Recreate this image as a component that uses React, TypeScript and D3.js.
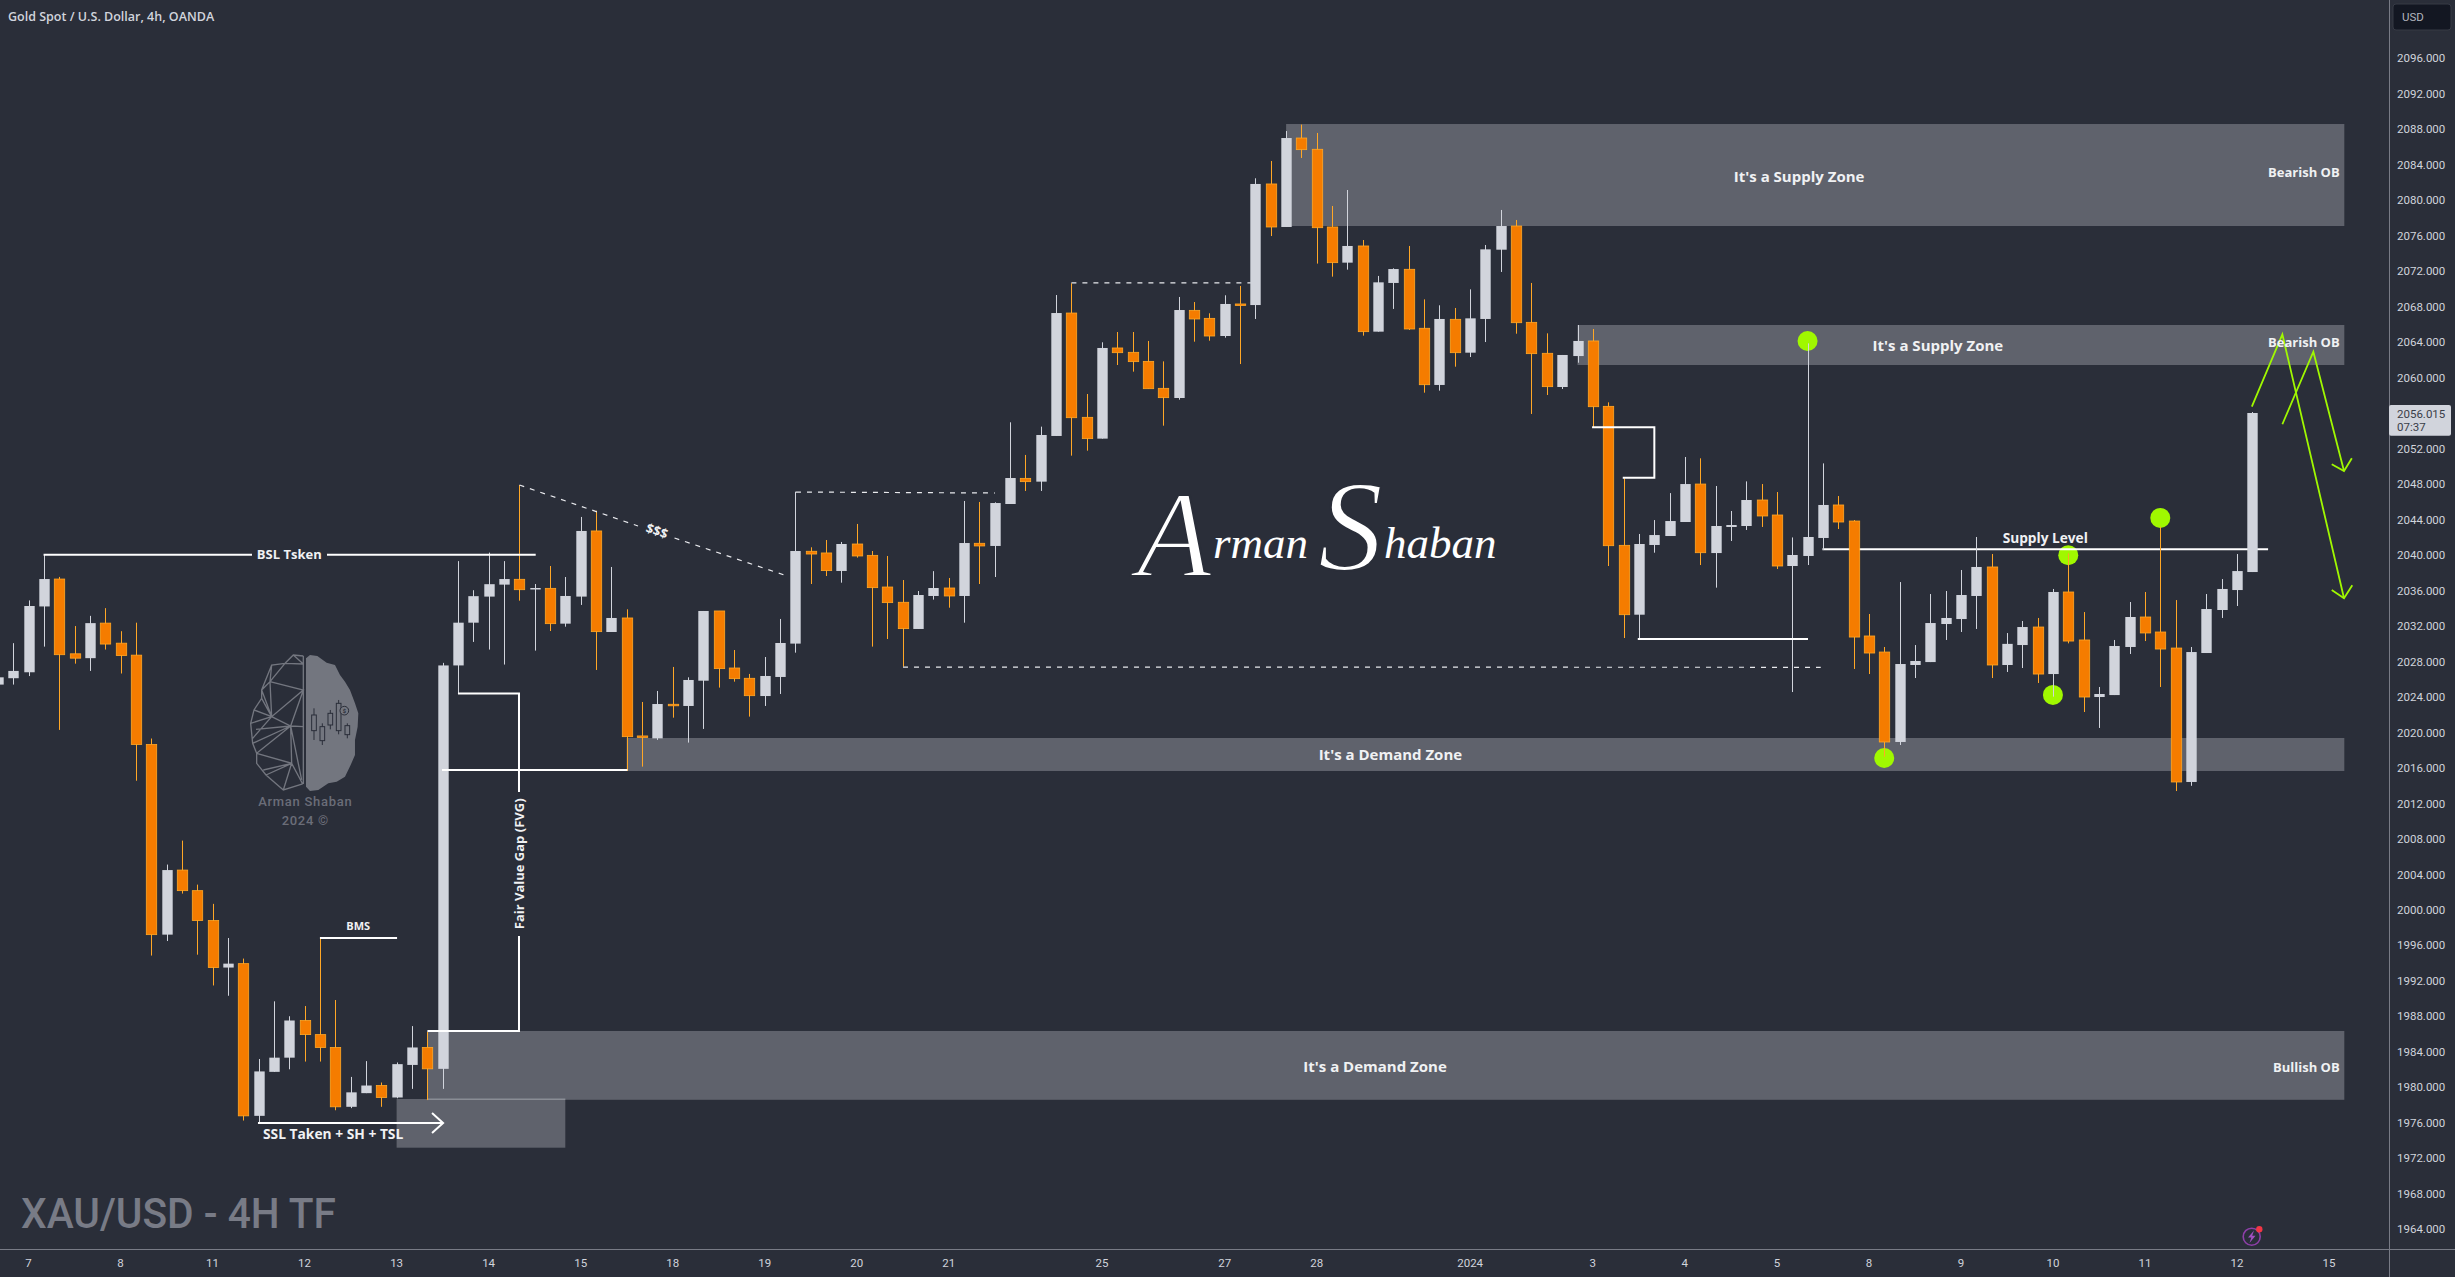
import React from "react";
import * as d3 from "d3";

// ---- candle data: each row holds ten candles, first entry is bar index -1 ----
const bodyTops = [
  2026.23,2026.95,2034.27,2037.31,2037.31,2028.88,2032.34,2032.34,2030.08,2028.73,
  2018.66,2004.5,2004.5,2002.18,1998.81,1993.95,1993.95,1981.8,1983.35,1987.54,
  1987.54,1985.95,1984.5,1979.44,1980.21,1980.21,1982.62,1984.5,1984.5,2027.57,
  2032.39,2035.38,2036.73,2037.31,2037.28,2036.3,2036.26,2035.4,2042.73,2042.73,
  2032.92,2032.92,2019.62,2023.22,2023.19,2025.93,2033.71,2033.71,2027.28,2026.12,
  2026.38,2030.1,2040.47,2040.44,2040.25,2041.26,2041.26,2039.98,2036.41,2034.69,
  2035.51,2036.3,2036.3,2041.37,2041.34,2045.88,2048.7,2048.66,2053.55,2067.3,
  2067.3,2055.54,2063.36,2063.36,2062.87,2061.85,2058.81,2067.64,2067.6,2066.7,
  2068.32,2068.32,2081.85,2081.85,2087.03,2087.03,2085.76,2077,2074.86,2074.86,
  2070.76,2072.26,2072.23,2065.58,2066.63,2066.59,2066.7,2074.48,2077.11,2077.11,
  2066.25,2062.76,2062.57,2064.15,2064.15,2056.78,2041.11,2041.26,2042.27,2043.85,
  2048.02,2048.02,2043.29,2043.4,2046.22,2046.22,2044.53,2040.02,2042.05,2045.66,
  2045.66,2043.85,2030.89,2029.08,2027.73,2028.07,2032.35,2032.92,2035.51,2038.67,
  2038.67,2030,2031.9,2031.9,2035.85,2035.85,2030.44,2024.35,2029.76,2033.03,
  2033.03,2031.34,2029.53,2029.08,2033.93,2036.19,2038.21,2056.03,
];
const bodyBots = [
  2025.41,2026.13,2026.8,2034.22,2028.78,2028.39,2028.39,2029.98,2028.68,2018.66,
  1997.22,1997.22,2002.18,1998.81,1993.51,1993.51,1976.79,1976.79,1981.75,1983.35,
  1985.95,1984.5,1977.81,1977.81,1979.35,1978.86,1978.86,1982.53,1982.09,1982.09,
  2027.57,2032.39,2035.33,2036.68,2036.11,2036.23,2032.28,2032.28,2035.33,2031.38,
  2031.34,2019.54,2019.54,2019.35,2023.04,2023,2025.85,2027.21,2026.08,2024.16,
  2024.12,2026.27,2030.03,2040.13,2038.26,2038.22,2039.91,2036.34,2034.65,2031.72,
  2031.68,2035.4,2035.4,2035.4,2041.04,2041.04,2045.77,2048.29,2048.29,2053.44,
  2055.5,2053.14,2053.14,2062.83,2061.82,2058.77,2057.76,2057.72,2066.63,2064.71,
  2064.71,2068.24,2068.2,2077,2077,2085.72,2076.92,2072.98,2072.98,2065.2,
  2065.2,2070.69,2065.5,2059.22,2059.19,2062.83,2062.83,2066.63,2074.44,2066.21,
  2062.72,2059,2058.96,2062.45,2056.74,2041.07,2033.29,2033.29,2041.15,2042.16,
  2043.74,2040.28,2040.24,2043.18,2043.29,2044.42,2038.78,2038.78,2039.91,2041.94,
  2043.74,2030.77,2028.97,2018.94,2018.94,2027.62,2027.95,2032.24,2032.8,2035.4,
  2027.62,2027.62,2029.87,2026.6,2026.6,2030.32,2024.01,2024.01,2024.23,2029.65,
  2031.23,2029.42,2014.43,2014.43,2028.97,2033.82,2036.07,2038.1,
];
const highs = [
  2026.8,2030.08,2034.9,2040.05,2037.55,2032.01,2033.16,2034.03,2031.43,2032.39,
  2019.33,2005.12,2007.82,2002.86,2000.69,1996.84,1994.52,1983.2,1989.7,1988.02,
  1989.17,1996.84,1989.85,1981.18,1982.96,1980.55,1982.81,1986.91,1986.24,2027.86,
  2039.33,2036.05,2040.29,2039.33,2047.91,2036.75,2038.78,2037.54,2044.31,2045.02,
  2038.67,2033.9,2023.45,2024.69,2027.4,2026.23,2033.71,2033.71,2029.31,2026.61,
  2028.52,2032.81,2047.16,2040.89,2041.71,2041.49,2043.52,2040.47,2039.91,2037.2,
  2035.96,2038.2,2037.43,2046.11,2046,2045.96,2054.98,2051.3,2054.49,2069.33,
  2070.65,2058.17,2064,2065.16,2065.16,2064.15,2061.85,2069.11,2068.54,2067.27,
  2069.3,2070.35,2082.49,2084.44,2087.82,2088.54,2087.6,2079.37,2081.17,2075.53,
  2071.48,2072.34,2074.86,2068.84,2068.17,2067.87,2069.97,2074.97,2078.92,2077.79,
  2070.69,2065.01,2062.57,2065.95,2065.5,2057.23,2048.66,2042.39,2043.96,2047,
  2051.07,2050.92,2047.8,2044.98,2048.32,2048.02,2047.12,2042,2063.88,2050.35,
  2046.67,2043.96,2033.37,2029.65,2036.97,2029.87,2035.62,2035.96,2038.33,2042.05,
  2040.13,2031.22,2032.58,2032.92,2036.19,2040.2,2033.59,2025.14,2030.44,2034.72,
  2035.85,2043.21,2034.94,2029.65,2035.62,2037.31,2040.13,2056.14,
];
const lows = [
  2025.0,2025.41,2026.37,2029.69,2020.3,2027.77,2026.95,2029.36,2026.66,2014.57,
  1994.86,1996.5,2001.85,1994.96,1991.49,1990.33,1976.26,1976.07,1981.75,1982.04,
  1982.91,1982.91,1977.42,1977.66,1979.35,1977.81,1978.77,1979.83,1978.57,1979.83,
  2024.39,2030.22,2029.36,2027.67,2034.87,2029.24,2031.45,2031.94,2034.39,2027.06,
  2031.34,2015.67,2016.16,2019.17,2021.68,2018.87,2020.41,2025.07,2025.74,2021.8,
  2023,2024.35,2029.01,2036.75,2037.65,2036.9,2039.72,2029.69,2030.55,2027.43,
  2031.68,2034.99,2034.08,2032.39,2036.75,2037.54,2045.77,2047.24,2047.24,2053.44,
  2051.22,2051.78,2053.14,2061.44,2060.69,2058.77,2054.6,2057.53,2064.07,2064.18,
  2064.52,2061.55,2066.63,2075.98,2077,2084.78,2072.87,2071.4,2072.19,2064.75,
  2065.2,2067.76,2065.39,2058.32,2058.55,2061.25,2062.34,2064.03,2071.93,2064.97,
  2055.92,2058.06,2058.73,2061.7,2054.41,2038.78,2030.66,2030.55,2040.28,2042.16,
  2043.74,2038.89,2036.34,2041.6,2042.84,2043.18,2038.44,2024.57,2038.89,2040.58,
  2042.95,2027.17,2026.6,2017.28,2018.6,2026.15,2027.95,2030.44,2031.34,2031.68,
  2026.15,2026.83,2027.28,2025.59,2024.05,2030.06,2022.32,2020.52,2024.23,2028.86,
  2030.32,2025.14,2013.41,2014,2028.97,2032.92,2034.27,2038.1,
];
// 1 = rising candle (grey), 0 = falling candle (orange)
const rising = [
  1,1,1,1,0,0,1,0,0,0,
  0,1,0,0,0,1,0,1,1,1,
  0,0,0,1,1,0,1,1,0,1,
  1,1,1,1,0,1,0,1,1,0,
  1,0,0,1,0,1,1,0,0,0,
  1,1,1,0,0,1,0,0,0,0,
  1,1,0,1,0,1,1,0,1,1,
  0,0,1,0,0,0,0,1,0,0,
  1,0,1,0,1,0,0,0,1,0,
  1,1,0,0,1,0,1,1,1,0,
  0,0,1,1,0,0,0,1,1,1,
  1,0,1,1,1,0,0,1,1,1,
  0,0,0,0,1,1,1,1,1,1,
  0,1,1,0,1,0,0,1,1,1,
  0,0,0,1,1,1,1,1,
];

const priceTicks = [2096,2092,2088,2084,2080,2076,2072,2068,2064,2060,2052,2048,2044,2040,2036,2032,2028,2024,2020,2016,2012,2008,2004,2000,1996,1992,1988,1984,1980,1976,1972,1968,1964];
const timeTicks = [1,7,13,19,25,31,37,43,49,55,61,71,79,85,95,103,109,115,121,127,133,139,145,151];
const timeLabels = ["7","8","11","12","13","14","15","18","19","20","21","25","27","28","2024","3","4","5","8","9","10","11","12","15"];

// zones: [from index, to index, top price, bottom price]
const zones = [
  [83,152,2088.61,2077.11],
  [102,152,2065.95,2061.44],
  [40,152,2019.39,2015.67],
  [27,152,1986.36,1978.6],
  [25,36,1978.69,1973.2],
];
// solid annotation polylines as [index, price]
const whiteLines = [
  [[1.98,2040.05],[15.57,2040.05]],
  [[20.46,2040.05],[34.07,2040.05]],
  [[20,1996.84],[25.03,1996.84]],
  [[15.96,1975.99],[28.03,1975.99]],
  [[27.31,1977.1],[28.03,1975.99],[27.31,1974.87]],
  [[29,2024.4],[32.98,2024.4],[32.98,2013.3]],
  [[32.98,1997.07],[32.98,1986.36],[27.01,1986.36]],
  [[27.96,2015.78],[40.05,2015.78]],
  [[102.95,2054.42],[107.01,2054.42],[107.01,2048.73],[104.95,2048.73]],
  [[105.93,2030.55],[117.03,2030.55]],
];
const supplyLine = [[117.97,2040.66],[147.03,2040.66]];
const dashedLines = [
  [[33.01,2047.91],[40.74,2043.29]],
  [[43.12,2041.94],[50.26,2037.77]],
  [[51.04,2047.12],[64.02,2047.01]],
  [[58.02,2027.39],[117.86,2027.36]],
  [[69,2070.69],[80.69,2070.69]],
];
const greenLines = [
  [[145.97,2056.74],[147.96,2064.9],[151.98,2035.14]],
  [[151.18,2036.07],[151.98,2035.14],[152.52,2036.6]],
  [[147.96,2054.76],[149.98,2062.94],[151.98,2049.49]],
  [[151.18,2050.25],[151.98,2049.49],[152.49,2050.92]],
];
const dots = [[117,2064.15],[122,2017.14],[134,2040],[133,2024.25],[140,2044.2]];
// labels: [text, index, price, anchor, size]
const labels: [string, number, number, string, number][] = [
  ["BSL Tsken",18,2040.05,"middle",13],
  ["BMS",22.5,1998.2,"middle",11],
  ["SSL Taken + SH + TSL",20.86,1974.75,"middle",13.8],
  ["It's a Supply Zone",116.45,2082.7,"middle",15],
  ["It's a Supply Zone",125.5,2063.6,"middle",15],
  ["It's a Demand Zone",89.8,2017.5,"middle",15],
  ["It's a Demand Zone",88.8,1982.3,"middle",15],
  ["Supply Level",132.5,2041.97,"middle",13.7],
  ["Bearish OB",151.7,2083.1,"end",13],
  ["Bearish OB",151.7,2064,"end",13],
  ["Bullish OB",151.7,1982.3,"end",13],
];

const W = 2455, H = 1277;
const x = d3.scaleLinear().domain([0, 146]).range([13.2, 2252.3]);
const y = d3.scaleLinear().domain([2064, 1964]).range([342.3, 1229.3]);
const lineGen = d3.line<number[]>().x(d => x(d[0])).y(d => y(d[1]));

const BG = "#2a2e39", UP = "#d1d4dc", DOWN = "#f57c00", DOWNEDGE = "#ffa726", ZONE = "#5f626c", AXIS = "#787b86", GREEN = "#a0f800";
const annFont = "'Open Sans', sans-serif";
const axisFont = "Roboto, sans-serif";

function Candles() {
  const bw = 10.4;
  return (
    <g>
      {bodyTops.map((t, k) => {
        const i = k - 1, up = rising[k] === 1;
        const cx = Math.round(x(i)) + 0.5;
        const top = y(t), bot = y(bodyBots[k]);
        return (
          <g key={k}>
            <line x1={cx} x2={cx} y1={y(highs[k])} y2={y(lows[k])} stroke={up ? UP : DOWNEDGE} strokeWidth={1} />
            <rect x={cx - bw / 2} y={top} width={bw} height={Math.max(bot - top, 1.5)}
              fill={up ? UP : DOWN} stroke={up ? UP : DOWNEDGE} strokeWidth={up ? 0 : 0.8} />
          </g>
        );
      })}
    </g>
  );
}

function Brain() {
  const c = "#73767f";
  const wicks = [[252,205,300,225,272],[277,250,315,260,302],[301,210,268,220,255],[326,180,283,190,272],[352,250,295,257,284]];
  return (
    <g transform="translate(230,640) scale(0.3333)">
      <path d="M228,55 L240,45 L262,48 L290,68 L315,75 L330,105 L345,125 L360,150 L375,190 L385,220 L383,260 L375,300 L375,345 L362,375 L345,410 L320,425 L295,430 L265,450 L240,453 L228,440 Z" fill={c} />
      <path fill="none" stroke={c} strokeWidth={4}
        d="M220,48 L220,432 M220,48 L190,45 L165,70 L125,75 L95,150 L95,175 L72,210 L62,250 L68,310 L80,340 L80,370 L108,405 L160,450 L218,432 M165,70 L220,72 M190,45 L220,72 M165,70 L120,125 L220,150 L125,230 L120,125 M125,75 L120,125 L95,150 L125,230 L72,210 M95,175 L125,230 L62,250 M125,230 L182,258 L220,150 M182,258 L220,260 M182,258 L78,268 M125,230 L68,295 M182,258 L68,310 M182,258 L185,370 L218,432 M182,258 L215,420 M80,340 L185,370 L160,450 M185,370 L108,405 M185,370 L100,390 M80,340 L182,258" />
      {wicks.map((w, i) => (
        <g key={i} stroke={BG} strokeWidth={3} fill="none">
          <line x1={w[0]} x2={w[0]} y1={w[1]} y2={w[2]} />
          <rect x={w[0] - 7} y={w[3]} width={14} height={w[4] - w[3]} fill={c} />
        </g>
      ))}
      <circle cx={343} cy={212} r={13} fill={c} stroke={BG} strokeWidth={3} />
      <text x={343} y={218} fontSize={17} textAnchor="middle" fill={BG} fontFamily={axisFont} fontWeight={700}>$</text>
      <text x={226} y={499} fontSize={39} textAnchor="middle" fill="#6a6d78" fontFamily={axisFont} letterSpacing={2.2} fontWeight={500}>Arman Shaban</text>
      <text x={226} y={555} fontSize={39} textAnchor="middle" fill="#6a6d78" fontFamily={axisFont} letterSpacing={2.2} fontWeight={500}>2024 ©</text>
    </g>
  );
}

export default function App() {
  return (
    <>
      <style>{`html,body{margin:0;padding:0;background:${BG};overflow:hidden}`}</style>
      <svg width={W} height={H} viewBox={`0 0 ${W} ${H}`} style={{ display: "block" }}>
        <rect width={W} height={H} fill={BG} />
        {zones.map((z, i) => (
          <rect key={i} x={x(z[0])} y={y(z[2])} width={x(z[1]) - x(z[0])} height={y(z[3]) - y(z[2])} fill={ZONE} />
        ))}
        <line x1={x(27)} x2={x(36)} y1={y(1978.65)} y2={y(1978.65)} stroke="#8a8d95" strokeWidth={1.5} />
        {dots.map((d, i) => <circle key={i} cx={x(d[0])} cy={y(d[1])} r={10} fill={GREEN} />)}
        <path d={lineGen(supplyLine as number[][])!} fill="none" stroke="#ffffff" strokeWidth={2} />
        <Brain />
        <Candles />
        {whiteLines.map((l, i) => <path key={i} d={lineGen(l as number[][])!} fill="none" stroke="#ffffff" strokeWidth={2} />)}
        {dashedLines.map((l, i) => <path key={i} d={lineGen(l as number[][])!} fill="none" stroke="#e8e9ed" strokeWidth={1.2} strokeDasharray="5 6" />)}
        {greenLines.map((l, i) => <path key={i} d={lineGen(l as number[][])!} fill="none" stroke={GREEN} strokeWidth={1.8} />)}
        {labels.map((l, i) => (
          <text key={i} x={x(l[1])} y={y(l[2])} dy="0.35em" textAnchor={l[3] as any} fill="#f0f1f3" fontFamily={annFont} fontWeight={700} fontSize={l[4]}>{l[0]}</text>
        ))}
        <text transform={`translate(${x(32.98)},${y(2005.2)}) rotate(-90)`} textAnchor="middle" dy="0.35em" fill="#f0f1f3" fontFamily={annFont} fontWeight={700} fontSize={13}>Fair Value Gap (FVG)</text>
        <text transform={`translate(${x(41.98)},${y(2042.73)}) rotate(19)`} textAnchor="middle" dy="0.35em" fill="#f0f1f3" fontFamily={annFont} fontWeight={700} fontSize={13}>$$$</text>

        {/* signature */}
        <text fontFamily="'Liberation Serif', serif" fontStyle="italic" fill="#ffffff">
          <tspan x={1137} y={576} fontSize={122} stroke={BG} strokeWidth={2.2}>A</tspan>
          <tspan x={1213} y={558} fontSize={45}>rman </tspan>
          <tspan x={1318} y={570} fontSize={130} stroke={BG} strokeWidth={2.2}>S</tspan>
          <tspan x={1384} y={558} fontSize={45}>haban</tspan>
        </text>

        {/* watermark + symbol */}
        <text x={21} y={1228} fontFamily={axisFont} fontWeight={500} fontSize={42} fill={AXIS} textLength={315} lengthAdjust="spacingAndGlyphs">XAU/USD - 4H TF</text>
        <text x={8} y={16.7} dy="0.35em" fontFamily={annFont} fontSize={12.5} fontWeight={600} fill="#d1d4dc">Gold Spot / U.S. Dollar, 4h, OANDA</text>

        {/* axes */}
        <rect x={2389} y={0} width={W - 2389} height={H} fill={BG} />
        <rect x={0} y={1249.3} width={W} height={H - 1249} fill={BG} />
        <line x1={2389.5} x2={2389.5} y1={0} y2={H} stroke={AXIS} strokeWidth={1} />
        <line x1={0} x2={W} y1={1249.5} y2={1249.5} stroke={AXIS} strokeWidth={1} />
        {priceTicks.map(p => (
          <text key={p} x={2397} y={y(p)} dy="0.35em" fill="#d1d4dc" fontFamily={axisFont} fontSize={11.5}>{p.toFixed(3)}</text>
        ))}
        {timeTicks.map((t, i) => (
          <text key={t} x={x(t)} y={1262.7} dy="0.35em" textAnchor="middle" fill="#d1d4dc" fontFamily={axisFont} fontSize={11.5}>{timeLabels[i]}</text>
        ))}
        <rect x={2393} y={4} width={58} height={26} rx={3} fill="#131722" stroke="#363a45" />
        <text x={2402} y={17} dy="0.35em" fill="#b2b5be" fontFamily={axisFont} fontSize={11.5}>USD</text>
        <rect x={2389} y={405} width={62} height={30.7} rx={2} fill={UP} />
        <text x={2397} y={414} dy="0.35em" fill="#3a3e49" fontFamily={axisFont} fontSize={11.5}>2056.015</text>
        <text x={2397} y={427} dy="0.35em" fill="#3a3e49" fontFamily={axisFont} fontSize={11.5}>07:37</text>

        {/* small publisher icon */}
        <circle cx={2251.7} cy={1236.7} r={8.5} fill="none" stroke="#8e3fa8" strokeWidth={1.6} />
        <path d="M2254,1230.5 L2248,1237.5 L2251.3,1237.5 L2249.5,1243 L2255.5,1235.8 L2252.2,1235.8 Z" fill="#a04fc0" />
        <circle cx={2259.3} cy={1229.3} r={3.2} fill="#f23645" />
      </svg>
    </>
  );
}
